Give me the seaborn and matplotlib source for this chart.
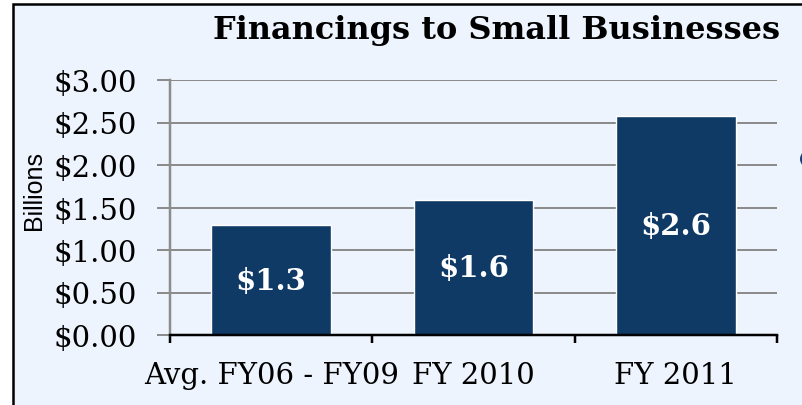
import matplotlib
matplotlib.use("Agg")
import matplotlib.pyplot as plt
import seaborn as sns
from matplotlib.patches import Rectangle, Circle

categories = ["Avg. FY06 - FY09", "FY 2010", "FY 2011"]
financing = [1.29, 1.59, 2.58]
bar_labels = ["$1.3", "$1.6", "$2.6"]
yticks = [0.0, 0.5, 1.0, 1.5, 2.0, 2.5, 3.0]

bg = "#EEF4FE"
navy = "#103A66"

sns.set_style("white")
plt.rcParams["font.family"] = ["DejaVu Serif"]
plt.rcParams["text.color"] = "black"
plt.rcParams["xtick.color"] = "black"
plt.rcParams["ytick.labelcolor"] = "black"
plt.rcParams["axes.labelcolor"] = "black"

fig = plt.figure(figsize=(8.03, 4.06), dpi=100, facecolor="white")
W, H = 803, 406
px = 72 / 100  # points per pixel
# slide panel with black frame on the left and top
fig.patches.append(Rectangle((13 / W, -0.1), 1.1, (406 - 5) / H + 0.1,
                             transform=fig.transFigure, facecolor=bg,
                             edgecolor="black", linewidth=1.8, zorder=-5))
fig.patches.append(Circle((809, H - 160), 9, transform=None,
                          facecolor="#15407A", edgecolor="none", zorder=-4))

ax = fig.add_axes([170 / W, 1 - 336 / H, 607 / W, 255 / H])
ax.set_zorder(2)
ax.set_facecolor(bg)

sns.barplot(x=categories, y=financing, color=navy, saturation=1,
            width=0.59, ax=ax, zorder=3)

ax.set_ylim(0, 3.0)
ax.set_xlim(-0.5, 2.5)
ax.set_yticks(yticks)
ax.set_yticklabels([f"${v:.2f}" for v in yticks], fontsize=21)
ax.yaxis.grid(True, color="#8C8C8C", linewidth=2 * px, zorder=0)
ax.set_axisbelow(True)

for i, (v, lab) in enumerate(zip(financing, bar_labels)):
    ax.text(i, v / 2, lab, ha="center", va="center", color="white",
            fontsize=21, fontweight="bold", zorder=5)

for s in ["top", "right"]:
    ax.spines[s].set_visible(False)
ax.spines["left"].set_color("#8C8C8C")
ax.spines["left"].set_linewidth(2.5 * px)
ax.spines["bottom"].set_color("black")
ax.spines["bottom"].set_linewidth(2.5 * px)
ax.spines["bottom"].set_zorder(6)

ax.tick_params(axis="y", length=13 * px, width=2 * px, color="#8C8C8C",
               pad=20 * px, left=True)
ax.tick_params(axis="x", which="major", length=0, pad=26 * px, labelsize=21)
ax.set_xticks([-0.5, 0.5, 1.5, 2.5], minor=True)
ax.tick_params(axis="x", which="minor", length=8 * px, width=2.5 * px,
               color="black", bottom=True)

ax.set_xlabel("")
ax.set_ylabel("Billions", family="Liberation Sans", fontsize=18)
ax.yaxis.set_label_coords(-0.205, 0.57)

fig.text(497 / W, 1 - 31 / H, "Financings to Small Businesses",
         ha="center", va="center", fontsize=23, fontweight="bold")

fig.savefig("out.png", dpi=100, facecolor=fig.get_facecolor())
